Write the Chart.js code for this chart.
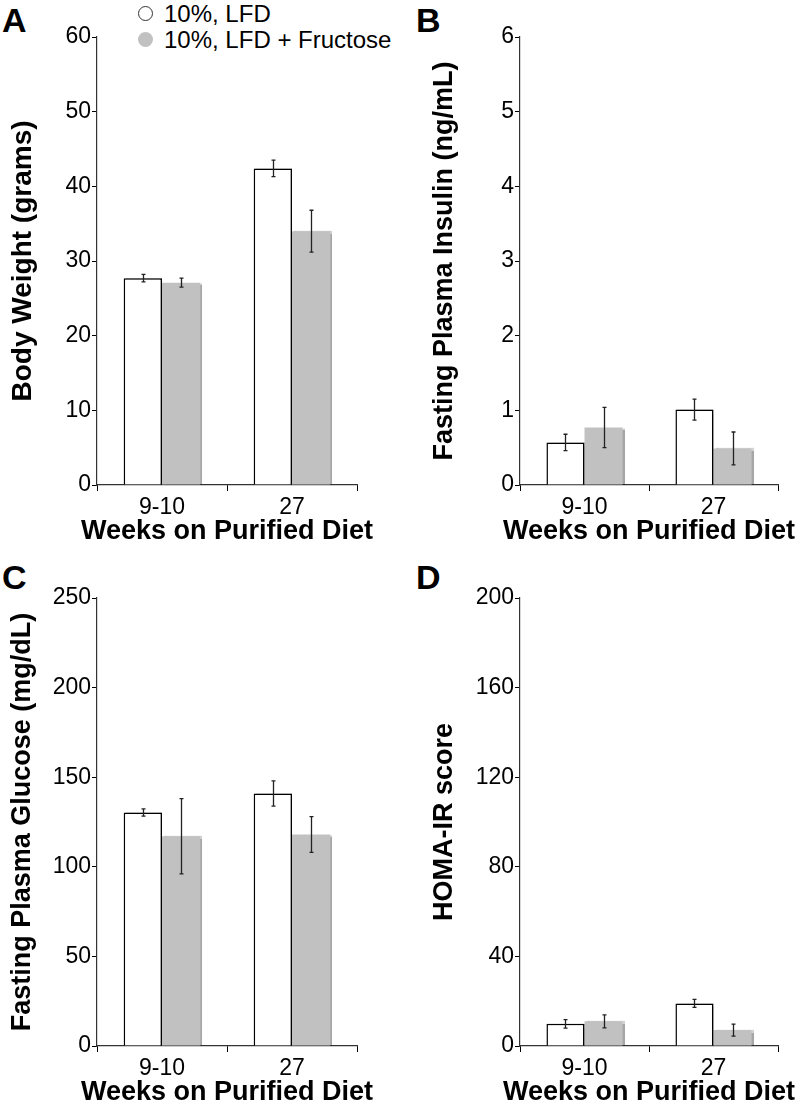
<!DOCTYPE html>
<html>
<head>
<meta charset="utf-8">
<script src="https://cdn.jsdelivr.net/npm/chart.js@4/dist/chart.umd.min.js"></script>
<style>
  body { margin: 0; background: #fff; overflow: hidden; width: 800px; height: 1115px; position: relative; font-family: "Liberation Sans", Arial, sans-serif; }
  canvas { position: absolute; }
  .letter { position: absolute; font-weight: bold; font-size: 34px; line-height: 1; }
  .legend { position: absolute; left: 138px; font-size: 24px; line-height: 1; }
  .legend span.dot { display: inline-block; width: 15px; height: 15px; border-radius: 50%; margin-right: 11px; vertical-align: 1px; box-sizing: border-box; }
</style>
</head>
<body>
<div class="letter" style="left:2px; top:3px;">A</div>
<div class="letter" style="left:416px; top:3px;">B</div>
<div class="letter" style="left:2px; top:560px;">C</div>
<div class="letter" style="left:416px; top:560px;">D</div>
<div class="legend" style="top:2px;"><span class="dot" style="border:1.5px solid #333;background:#fff;"></span>10%, LFD</div>
<div class="legend" style="top:28px;"><span class="dot" style="background:#c1c1c1;"></span>10%, LFD + Fructose</div>

<canvas id="chartA" width="400" height="557" style="left:0;top:0;"></canvas>
<canvas id="chartB" width="400" height="557" style="left:400px;top:0;"></canvas>
<canvas id="chartC" width="400" height="557" style="left:0;top:561px;"></canvas>
<canvas id="chartD" width="400" height="557" style="left:400px;top:561px;"></canvas>

<script>
// Data
const weeks = ['9-10', '27'];
const seriesNames = ['10%, LFD', '10%, LFD + Fructose'];
const xTitleText = 'Weeks on Purified Diet';

const bodyWeightLFD = [27.7, 42.4];
const bodyWeightLFDErr = [0.5, 1.1];
const bodyWeightFru = [27.1, 34.0];
const bodyWeightFruErr = [0.6, 2.8];

const insulinLFD = [0.57, 1.01];
const insulinLFDErr = [0.11, 0.14];
const insulinFru = [0.77, 0.49];
const insulinFruErr = [0.27, 0.22];

const glucoseLFD = [130.3, 140.9];
const glucoseLFDErr = [2, 7];
const glucoseFru = [117, 118];
const glucoseFruErr = [21, 10];

const homaLFD = [9.9, 19.0];
const homaLFDErr = [1.9, 1.8];
const homaFru = [11.0, 7.1];
const homaFruErr = [2.9, 2.7];

const fontFamily = '"Liberation Sans", Arial, sans-serif';

// soft shadow on the right side of the bars
const barShadow = {
    id: 'barShadow',
    beforeDatasetsDraw(chart) {
        const ctx = chart.ctx;
        ctx.save();
        ctx.shadowColor = 'rgba(0,0,0,0.35)';
        ctx.shadowOffsetX = 2;
        ctx.shadowOffsetY = 0;
        ctx.shadowBlur = 1;
    },
    afterDatasetsDraw(chart) {
        chart.ctx.restore();
    }
};

// error bars drawn from the errors array of each dataset
const errorBars = {
    id: 'errorBars',
    afterDatasetsDraw(chart) {
        const ctx = chart.ctx;
        const yScale = chart.scales.y;
        ctx.save();
        ctx.strokeStyle = '#222';
        ctx.lineWidth = 1.3;
        chart.data.datasets.forEach(function(ds, i) {
            const meta = chart.getDatasetMeta(i);
            meta.data.forEach(function(bar, j) {
                const v = ds.data[j];
                const e = ds.errors[j];
                const top = yScale.getPixelForValue(v + e);
                const bottom = yScale.getPixelForValue(v - e);
                const x = Math.round(bar.x) + 0.5;
                ctx.beginPath();
                ctx.moveTo(x, top);
                ctx.lineTo(x, bottom);
                ctx.moveTo(x - 2, top);
                ctx.lineTo(x + 2, top);
                ctx.moveTo(x - 2, bottom);
                ctx.lineTo(x + 2, bottom);
                ctx.stroke();
            });
        });
        ctx.restore();
    }
};

// x axis title, drawn without the width limit so it can run past the axis ends
const xTitle = {
    id: 'xTitle',
    afterDraw(chart) {
        const ctx = chart.ctx;
        const area = chart.chartArea;
        ctx.save();
        ctx.font = 'bold 27px ' + fontFamily;
        ctx.fillStyle = '#000';
        ctx.textAlign = 'center';
        ctx.textBaseline = 'middle';
        ctx.fillText(xTitleText, (area.left + area.right) / 2, area.bottom + 47);
        ctx.restore();
    }
};

function makePanel(id, yTitle, yMax, yStep, lfd, lfdErr, fru, fruErr, axisWidth, rightPad, titlePad, titleSize) {
    const ctx = document.getElementById(id).getContext('2d');
    return new Chart(ctx, {
        type: 'bar',
        data: {
            labels: weeks,
            datasets: [{
                label: seriesNames[0],
                data: lfd,
                errors: lfdErr,
                backgroundColor: '#ffffff',
                borderColor: '#000000',
                borderWidth: 1.5
            }, {
                label: seriesNames[1],
                data: fru,
                errors: fruErr,
                backgroundColor: '#c1c1c1',
                borderWidth: 0
            }]
        },
        options: {
            responsive: false,
            animation: false,
            events: [],
            categoryPercentage: 0.59,
            barPercentage: 1.0,
            layout: { padding: { top: 37, right: rightPad, bottom: 0, left: 0 } },
            plugins: {
                legend: { display: false },
                tooltip: { enabled: false }
            },
            scales: {
                x: {
                    grid: { drawOnChartArea: false, color: '#000', tickLength: 6, offset: true },
                    border: { color: '#333', width: 1.2 },
                    ticks: { color: '#000', padding: 3, font: { family: fontFamily, size: 23 } },
                    afterFit: function(scale) { scale.height = 72; }
                },
                y: {
                    min: 0,
                    max: yMax,
                    grid: { drawOnChartArea: false, color: '#000', tickLength: 5 },
                    border: { color: '#333', width: 1.2 },
                    ticks: { stepSize: yStep, color: '#000', padding: 1, font: { family: fontFamily, size: 23 } },
                    title: {
                        display: true,
                        text: yTitle,
                        color: '#000',
                        font: { family: fontFamily, size: titleSize, weight: 'bold' },
                        padding: { top: titlePad, bottom: 0 }
                    },
                    afterFit: function(scale) { scale.width = axisWidth; }
                }
            }
        },
        plugins: [barShadow, errorBars, xTitle]
    });
}

makePanel('chartA', 'Body Weight (grams)', 60, 10,
    bodyWeightLFD, bodyWeightLFDErr, bodyWeightFru, bodyWeightFruErr, 97, 43, 6, 28);
makePanel('chartB', 'Fasting Plasma Insulin (ng/mL)', 6, 1,
    insulinLFD, insulinLFDErr, insulinFru, insulinFruErr, 120, 22, 28, 27);
makePanel('chartC', 'Fasting Plasma Glucose (mg/dL)', 250, 50,
    glucoseLFD, glucoseLFDErr, glucoseFru, glucoseFruErr, 97, 43, 6, 27);
makePanel('chartD', 'HOMA-IR score', 200, 40,
    homaLFD, homaLFDErr, homaFru, homaFruErr, 120, 22, 28, 27);
</script>
</body>
</html>
